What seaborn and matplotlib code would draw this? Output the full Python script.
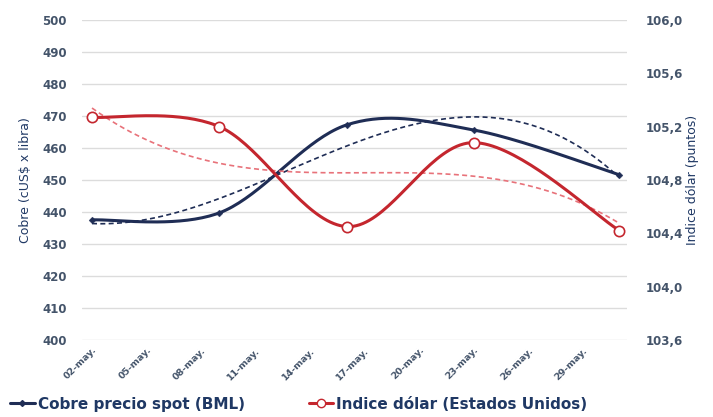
import numpy as np
import pandas as pd
import matplotlib
matplotlib.use("Agg")
import matplotlib.pyplot as plt
import seaborn as sns
from matplotlib.lines import Line2D

# datos semanales (día de mayo)
dias = [2, 9, 16, 23, 31]
cobre = [437.5, 439.7, 467.2, 465.6, 451.6]
dolar = [105.27, 105.20, 104.45, 105.08, 104.42]

tick_dias = [2, 5, 8, 11, 14, 17, 20, 23, 26, 29]
tick_labels = ["02-may.", "05-may.", "08-may.", "11-may.", "14-may.",
               "17-may.", "20-may.", "23-may.", "26-may.", "29-may."]
yticks_izq = list(range(400, 501, 10))
yticks_der = [103.6, 104.0, 104.4, 104.8, 105.2, 105.6, 106.0]

AZUL = "#1f2d55"
ROJO = "#c4262e"
ROJO_CLARO = "#e8727a"
TEXTO = "#1f3864"
TICKS = "#44546a"


def suavizar(x, y, n=40):
    # curva suavizada tipo Excel (Catmull-Rom con Bezier)
    x = np.asarray(x, float)
    y = np.asarray(y, float)
    px = np.concatenate([[x[0]], x, [x[-1]]])
    py = np.concatenate([[y[0]], y, [y[-1]]])
    t = np.linspace(0, 1, n)[:, None]
    xs, ys = [], []
    for i in range(1, len(px) - 2):
        p0 = np.array([px[i], py[i]])
        p3 = np.array([px[i + 1], py[i + 1]])
        c1 = p0 + (np.array([px[i + 1], py[i + 1]]) - np.array([px[i - 1], py[i - 1]])) / 6
        c2 = p3 - (np.array([px[i + 2], py[i + 2]]) - np.array([px[i], py[i]])) / 6
        b = ((1 - t) ** 3) * p0 + 3 * ((1 - t) ** 2) * t * c1 + 3 * (1 - t) * t ** 2 * c2 + t ** 3 * p3
        xs.extend(b[:, 0])
        ys.extend(b[:, 1])
    return pd.DataFrame({"x": xs, "y": ys})


def tendencia(x, y, grado):
    coef = np.polyfit(x, y, grado)
    xx = np.linspace(min(x), max(x), 200)
    return pd.DataFrame({"x": xx, "y": np.polyval(coef, xx)})


sns.set_style("white")
plt.rcParams["font.family"] = ["DejaVu Sans"]

fig = plt.figure(figsize=(7.13, 4.17), dpi=100)
ax = fig.add_axes([0.115, 0.185, 0.764, 0.767])
ax2 = ax.twinx()

# cobre (eje izquierdo)
sns.lineplot(data=tendencia(dias, cobre, 3), x="x", y="y", ax=ax, color=AZUL,
             lw=1.2, linestyle=(0, (3, 2)), sort=False)
sns.lineplot(data=suavizar(dias, cobre), x="x", y="y", ax=ax, color=AZUL,
             lw=2.2, sort=False)
sns.scatterplot(x=dias, y=cobre, ax=ax, color=AZUL, s=12, marker="D",
                edgecolor=AZUL, zorder=5)

# dólar (eje derecho)
sns.lineplot(data=tendencia(dias, dolar, 3), x="x", y="y", ax=ax2, color=ROJO_CLARO,
             lw=1.2, linestyle=(0, (3, 2)), sort=False)
sns.lineplot(data=suavizar(dias, dolar), x="x", y="y", ax=ax2, color=ROJO,
             lw=2.2, sort=False)
sns.scatterplot(x=dias, y=dolar, ax=ax2, color="white", s=55, marker="o",
                edgecolor=ROJO, linewidth=1.2, zorder=5)

ax.set_xlim(1.45, 31.4)
ax.set_ylim(400, 500)
ax2.set_ylim(103.6, 106.0)
ax.set_yticks(yticks_izq)
ax2.set_yticks(yticks_der)
ax2.set_yticklabels([f"{v:.1f}".replace(".", ",") for v in yticks_der])
ax.set_xticks(tick_dias)
ax.set_xticklabels(tick_labels, rotation=45, ha="right", rotation_mode="anchor")

ax.grid(axis="y", color="#dcdcdc", lw=1)
ax.grid(axis="x", visible=False)
for a in (ax, ax2):
    for s in a.spines.values():
        s.set_visible(False)
    a.tick_params(length=0)

ax.tick_params(axis="y", labelsize=8.5, labelcolor=TICKS, pad=11)
ax2.tick_params(axis="y", labelsize=8.5, labelcolor=TICKS, pad=14)
ax.tick_params(axis="x", labelsize=6.8, labelcolor=TICKS, pad=4)
for lab in ax.get_yticklabels() + ax2.get_yticklabels() + ax.get_xticklabels():
    lab.set_fontweight("bold")

ax.set_xlabel("")
ax.set_ylabel("Cobre (cUS$ x libra)", fontsize=9, color=TEXTO, labelpad=7)
ax2.set_ylabel("Indice dólar (puntos)", fontsize=9, color=TEXTO, labelpad=2)

handles = [
    Line2D([], [], color=AZUL, lw=2.2, marker="D", markersize=3),
    Line2D([], [], color=ROJO, lw=2.2, marker="o", markersize=6,
           markerfacecolor="white", markeredgecolor=ROJO),
]
fig.legend(handles, ["Cobre precio spot (BML)", "Indice dólar (Estados Unidos)"],
           loc="lower left", bbox_to_anchor=(-0.005, -0.02), ncol=2, frameon=False,
           handlelength=1.6, handletextpad=0.2, columnspacing=4.2,
           prop={"size": 11, "weight": "bold"}, labelcolor=TEXTO)

fig.savefig("out.png", dpi=100)
